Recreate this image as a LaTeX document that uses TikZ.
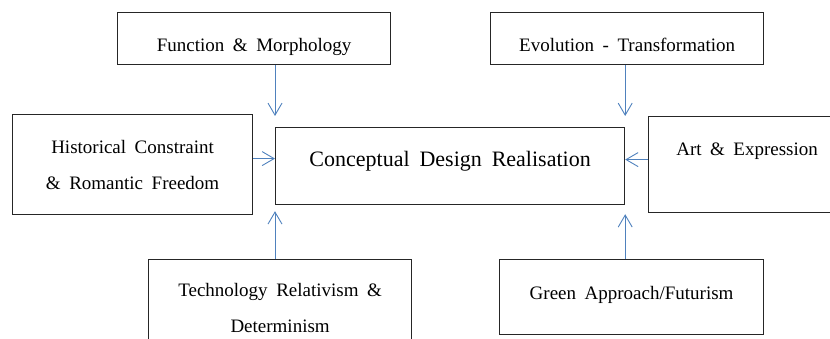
\documentclass[tikz,border=0pt]{standalone}
\usepackage{fontspec}
\setmainfont{Liberation Serif}
\usetikzlibrary{arrows.meta}

\definecolor{arrblue}{RGB}{79,129,189}

% wider word spaces, as in the original
\newcommand{\widesp}{\spaceskip=0.45em\relax}
% lower/raise a node text without changing its size
\newcommand{\nudge}[2]{\raisebox{#1}[\height][\depth]{#2}}

\begin{document}
\begin{tikzpicture}[
    x=1pt, y=-1pt,
    font=\fontsize{19}{36}\selectfont\widesp,
    box/.style={
        rectangle,
        draw=black!85,
        line width=1.2pt,
        anchor=north west,
        align=center,
        inner sep=0pt
    },
    core/.style={box, font=\fontsize{22}{26}\selectfont\widesp},
    arr/.style={-{Straight Barb[length=12pt, width=14pt]}, line width=0.9pt, draw=arrblue}
]
\useasboundingbox (0,0) rectangle (830,339);

\node[core, minimum width=349pt, minimum height=77pt] (ctr) at (275,127)
    {\nudge{5pt}{Conceptual Design Realisation}};

\node[box, minimum width=273pt, minimum height=52pt] (func) at (117,12)
    {\nudge{-8pt}{Function \& Morphology}};
\node[box, minimum width=273pt, minimum height=52pt] (evo) at (490,12)
    {\nudge{-6pt}{Evolution - Transformation}};
\node[box, minimum width=240pt, minimum height=100pt] (hist) at (12,114)
    {Historical Constraint\\\& Romantic Freedom};
\node[box, minimum width=197pt, minimum height=96pt] (art) at (648,116)
    {\nudge{13pt}{Art \& Expression}};
\node[box, minimum width=263pt, minimum height=97pt] (tech) at (148,259)
    {Technology Relativism \&\\Determinism};
\node[box, minimum width=264pt, minimum height=75pt] (green) at (499,259)
    {\nudge{2pt}{Green Approach/Futurism}};

\coordinate (h) at ([yshift=6pt]hist.east);
\coordinate (a) at ([yshift=5pt]art.west);

\draw[arr, shorten >=11pt] (func.south -| ctr.west) -- (ctr.north west);
\draw[arr, shorten >=11pt] (evo.south -| ctr.east)  -- (ctr.north east);
\draw[arr] (h) -- (h -| ctr.west);
\draw[arr] (a) -- (a -| ctr.east);
\draw[arr, shorten >=6pt] (tech.north -| ctr.west)  -- (ctr.south west);
\draw[arr, shorten >=9pt] (green.north -| ctr.east) -- (ctr.south east);
\end{tikzpicture}
\end{document}
